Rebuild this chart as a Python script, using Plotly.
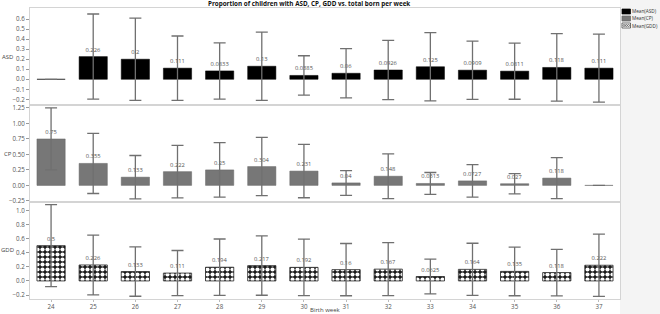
import plotly.graph_objects as go
from plotly.subplots import make_subplots

weeks = [24, 25, 26, 27, 28, 29, 30, 31, 32, 33, 34, 35, 36, 37]

asd_mean = [0, 0.226, 0.2, 0.111, 0.0833, 0.13, 0.0385, 0.06, 0.0926, 0.125, 0.0909, 0.0811, 0.118, 0.111]
asd_sd = [0, 0.424, 0.41, 0.32, 0.28, 0.34, 0.196, 0.245, 0.295, 0.34, 0.29, 0.28, 0.336, 0.338]

cp_mean = [0.75, 0.355, 0.133, 0.222, 0.25, 0.304, 0.231, 0.04, 0.148, 0.0313, 0.0727, 0.027, 0.118, 0]
cp_sd = [0.5, 0.486, 0.35, 0.424, 0.44, 0.47, 0.43, 0.2, 0.362, 0.177, 0.262, 0.164, 0.33, 0]

gdd_mean = [0.5, 0.226, 0.133, 0.111, 0.194, 0.217, 0.192, 0.16, 0.167, 0.0625, 0.164, 0.135, 0.118, 0.222]
gdd_sd = [0.58, 0.424, 0.35, 0.32, 0.40, 0.42, 0.40, 0.37, 0.375, 0.245, 0.37, 0.345, 0.33, 0.44]

panel_names = ["ASD", "CP", "GDD"]
legend_names = ["Mean(ASD)", "Mean(CP)", "Mean(GDD)"]

W, H = 660, 314
ML, MR, MT, MB = 30, 40, 8, 15
PW, PH = W - ML - MR, H - MT - MB


def xp(px):
    return (px - ML) / PW


def yp(py):
    return (H - MB - py) / PH


FONT = "Open Sans"
ERR_COLOR = "#707070"
LINE_GRAY = "#d4d4d4"


def labels(vals):
    return ["" if v == 0 else f"{v:.3g}" for v in vals]


fig = make_subplots(rows=3, cols=1, shared_xaxes=True, vertical_spacing=0)

bar_common = dict(
    x=weeks,
    width=0.67,
    textposition="outside",
    cliponaxis=False,
    textfont=dict(size=5.8, color="#555555", family=FONT),
    showlegend=False,
    hoverinfo="skip",
)
err_common = dict(type="data", visible=True, color=ERR_COLOR, thickness=1.3, width=6)

fig.add_trace(go.Bar(y=asd_mean, name=legend_names[0], text=labels(asd_mean),
                     marker=dict(color="#000000", line=dict(color="#000000", width=0.5)),
                     error_y=dict(array=asd_sd, **err_common), **bar_common), row=1, col=1)
fig.add_trace(go.Bar(y=cp_mean, name=legend_names[1], text=labels(cp_mean),
                     marker=dict(color="#777777", line=dict(color="#666666", width=0.5)),
                     error_y=dict(array=cp_sd, **err_common), **bar_common), row=2, col=1)
fig.add_trace(go.Bar(y=gdd_mean, name=legend_names[2], text=labels(gdd_mean),
                     marker=dict(color="#ffffff", line=dict(color="#222222", width=0.8),
                                 pattern=dict(shape=".", fillmode="replace", bgcolor="#1a1a1a",
                                              fgcolor="#ffffff", size=5, solidity=0.55)),
                     error_y=dict(array=gdd_sd, **err_common), **bar_common), row=3, col=1)

tickfont = dict(size=6.2, color="#555555", family=FONT)
yconf = [
    dict(range=[-0.256, 0.71], tickvals=[-0.2, -0.1, 0, 0.1, 0.2, 0.3, 0.4, 0.5, 0.6], tickformat=".1f"),
    dict(range=[-0.268, 1.298], tickvals=[-0.25, 0, 0.25, 0.5, 0.75, 1.0, 1.25], tickformat=".2f"),
    dict(range=[-0.256, 1.118], tickvals=[-0.2, 0, 0.2, 0.4, 0.6, 0.8, 1.0], tickformat=".1f"),
]
for i, yc in enumerate(yconf, start=1):
    fig.update_yaxes(row=i, col=1, showgrid=False, zeroline=False, showline=True, mirror=True,
                     linecolor=LINE_GRAY, linewidth=1, ticks="outside", ticklen=3, tickcolor="#999999",
                     tickfont=tickfont, automargin=False, **yc)
    fig.update_xaxes(row=i, col=1, showgrid=False, zeroline=False, showline=True, mirror=True,
                     linecolor=LINE_GRAY, linewidth=1, range=[23.5, 37.5], tickvals=weeks,
                     ticks="", tickfont=tickfont, automargin=False)

fig.update_xaxes(row=3, col=1, ticks="outside", ticklen=2, tickcolor="#bbbbbb")

annotations = [
    dict(text="<b>Proportion of children with ASD, CP, GDD vs. total born per week</b>",
         x=xp(309), y=yp(3.5), xref="paper", yref="paper", showarrow=False,
         font=dict(size=6.3, color="#111111", family=FONT), xanchor="center", yanchor="middle"),
    dict(text="Birth week", x=xp(325), y=yp(309.5), xref="paper", yref="paper", showarrow=False,
         font=dict(size=6, color="#444444", family=FONT), xanchor="center", yanchor="middle"),
]
for name, py in zip(panel_names, [57, 154, 250]):
    annotations.append(dict(text=name, x=xp(7.5), y=yp(py), xref="paper", yref="paper", showarrow=False,
                            font=dict(size=6, color="#444444", family=FONT),
                            xanchor="center", yanchor="middle"))

# manual legend (swatches + labels)
shapes = [
    dict(type="rect", xref="paper", yref="paper", x0=1, x1=xp(W), y0=yp(H), y1=yp(0),
         fillcolor="#f4f4f4", line=dict(width=0), layer="below"),
]
sw_cols = [("#000000", "#000000"), ("#777777", "#666666"), ("#ffffff", "#333333")]
for (fc, lc), name, py in zip(sw_cols, legend_names, [11.5, 18.5, 25.5]):
    shapes.append(dict(type="rect", xref="paper", yref="paper", x0=xp(622), x1=xp(630.5),
                       y0=yp(py + 2.5), y1=yp(py - 2.5), fillcolor=fc, line=dict(color=lc, width=0.7)))
    annotations.append(dict(text=name, x=xp(630.5), y=yp(py), xref="paper", yref="paper",
                            showarrow=False, xanchor="left", yanchor="middle", borderpad=0,
                            font=dict(size=4.7, color="#333333", family=FONT)))
# little circles inside GDD legend swatch
for cx in [624, 626.3, 628.6]:
    shapes.append(dict(type="circle", xref="paper", yref="paper", x0=xp(cx - 1), x1=xp(cx + 1),
                       y0=yp(25.5 + 1), y1=yp(25.5 - 1), line=dict(color="#333333", width=0.6)))

fig.update_layout(
    width=W, height=H,
    margin=dict(l=ML, r=MR, t=MT, b=MB, autoexpand=False),
    paper_bgcolor="#ffffff", plot_bgcolor="#ffffff",
    showlegend=False, bargap=0.33,
    annotations=annotations, shapes=shapes,
    font=dict(family=FONT),
    hovermode=False,
)

fig.write_html("out.html", config={"displayModeBar": False, "staticPlot": True},
               post_script="document.body.style.margin='0';document.body.style.overflow='hidden';")
